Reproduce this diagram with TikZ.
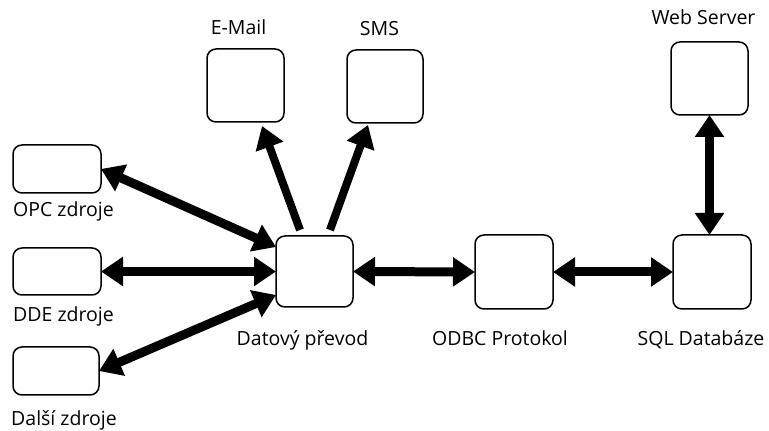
\documentclass[tikz,border=0pt]{standalone}
\usepackage{fontspec}
\setmainfont{Open Sans}
\usetikzlibrary{arrows.meta,calc}
\begin{document}
\begin{tikzpicture}[x=1pt,y=1pt,
  box/.style={draw=black, line width=1.5pt, rounded corners=9pt, fill=white, inner sep=0pt, outer sep=0pt},
  lbl/.style={inner sep=0pt, font=\fontsize{19.5}{22}\selectfont},
  tipA/.tip={Triangle[length=22pt,width=28pt]},
  dbl/.style={line width=9pt, {tipA}-{tipA}},
  sgl/.style={line width=8pt, -{tipA}}]
\useasboundingbox (0,0) rectangle (769,431);
% boxes
\node[box, minimum width=88pt, minimum height=48pt] (opc) at (57,262) {};
\node[box, minimum width=88pt, minimum height=47pt] (dde) at (57,159.5) {};
\node[box, minimum width=86pt, minimum height=48pt] (dal) at (56,60) {};
\node[box, minimum width=77pt, minimum height=71pt] (dat) at (314.5,159.5) {};
\node[box, minimum width=77pt, minimum height=73pt] (email) at (245.5,345.5) {};
\node[box, minimum width=76pt, minimum height=73pt] (sms) at (385,344.5) {};
\node[box, minimum width=78pt, minimum height=74pt] (odbc) at (514,159) {};
\node[box, minimum width=78pt, minimum height=74pt] (sql) at (712,159) {};
\node[box, minimum width=77pt, minimum height=73pt] (web) at (709.5,352.5) {};
% labels
\node[lbl, anchor=base west] (lopc) at (13,214) {OPC zdroje};
\node[lbl, anchor=base west] (ldde) at (13,109) {DDE zdroje};
\node[lbl, anchor=base west] (ldal) at (11,5) {Další zdroje};
\node[lbl, anchor=base] (ldat) at (302.5,85) {Datový převod};
\node[lbl, anchor=base] (lodbc) at (500,85) {ODBC Protokol};
\node[lbl, anchor=base] (lsql) at (701,85) {SQL Databáze};
\node[lbl, anchor=base] (lweb) at (703.5,406) {Web Server};
\node[lbl, anchor=base] (lemail) at (238.5,396) {E-Mail};
\node[lbl, anchor=base] (lsms) at (379.5,395) {SMS};
% connectors
\draw[dbl] (opc.east) -- ($(dat.north west)+(0,-11)$);
\draw[dbl] (dde.east) -- (dat.west);
\draw[dbl] (dal.east) -- ($(dat.south west)+(0,12)$);
\draw[sgl] ($(dat.north)+(-14.5,6)$) -- ($(email.south)+(16.5,-4)$);
\draw[sgl] ($(dat.north)+(15.5,6)$) -- ($(sms.south)+(-17,-2)$);
\draw[dbl] (dat.east) -- (odbc.west);
\draw[dbl] (odbc.east) -- (sql.west);
\draw[dbl] (web.south) -- (web.south |- sql.north);
\end{tikzpicture}
\end{document}
